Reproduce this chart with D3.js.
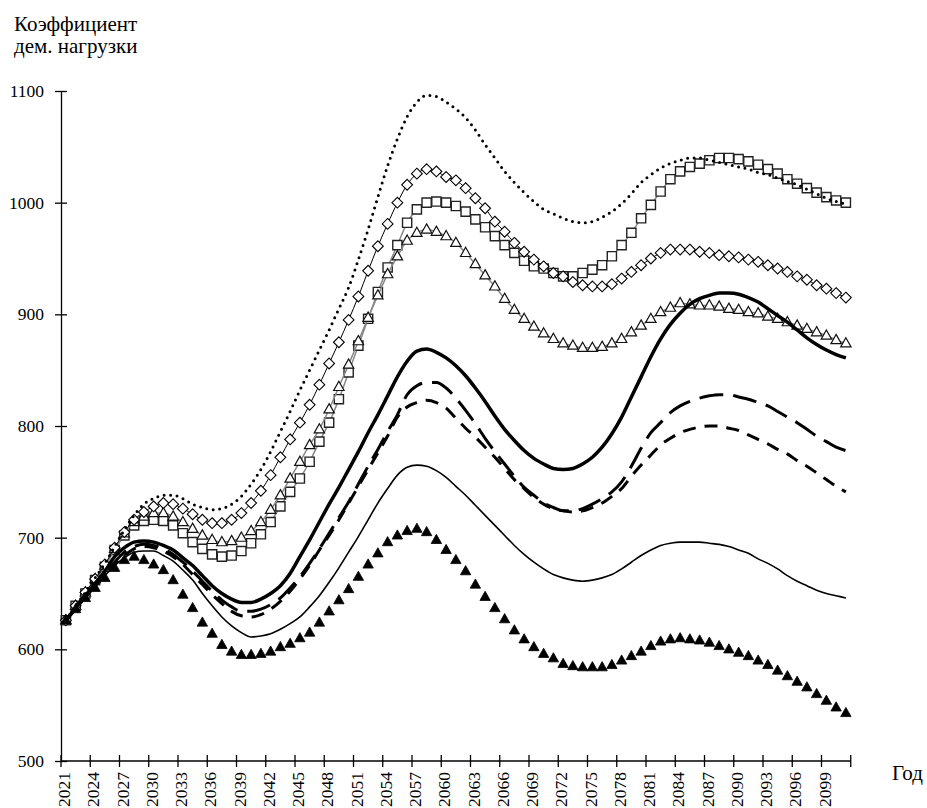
<!DOCTYPE html>
<html>
<head>
<meta charset="utf-8">
<script src="https://cdn.jsdelivr.net/npm/d3@7"></script>
</head>
<body style="margin:0">
<div id="chart"></div>
<script>
// categories and tick labels
var years = d3.range(2021, 2102);
var tickYears = d3.range(2021, 2100, 3);
var yTicks = [500, 600, 700, 800, 900, 1000, 1100];

// series values, one per year 2021..2101
var dotted = [626, 639, 651, 664, 677, 692, 707, 720, 730, 735,
    738, 738, 735, 730, 727, 725, 726, 730, 737, 748,
    761, 777, 795, 813, 832, 850, 868, 886, 905, 924,
    949, 976, 1005, 1033, 1057, 1077, 1090, 1096, 1095, 1090,
    1084, 1076, 1065, 1052, 1040, 1028, 1018, 1009, 1001, 994,
    990, 986, 983, 982, 983, 987, 992, 999, 1008, 1018,
    1025, 1031, 1035, 1038, 1040, 1040, 1038, 1036, 1034, 1032,
    1030, 1027, 1025, 1022, 1019, 1016, 1012, 1008, 1004, 1001,
    999];

var diamonds = [626, 639, 651, 663, 676, 691, 705, 716, 723, 728,
    731, 730, 726, 721, 716, 713, 713, 716, 722, 731,
    742, 756, 772, 788, 803, 819, 837, 856, 875, 895,
    916, 939, 961, 981, 1000, 1016, 1026, 1030, 1028, 1023,
    1020, 1013, 1004, 995, 983, 974, 964, 956, 949, 943,
    937, 934, 929, 926, 925, 925, 927, 932, 938, 944,
    950, 955, 958, 958, 958, 956, 955, 953, 952, 951,
    949, 947, 944, 941, 938, 934, 931, 926, 923, 919,
    915];

var squares = [626, 639, 650, 662, 674, 689, 702, 711, 715, 716,
    715, 711, 704, 696, 690, 685, 683, 684, 688, 695,
    703, 714, 728, 741, 753, 768, 786, 803, 824, 848,
    872, 896, 920, 942, 962, 982, 994, 1000, 1001, 1000,
    997, 992, 985, 978, 970, 962, 955, 948, 943, 941,
    937, 934, 934, 937, 940, 944, 952, 962, 973, 986,
    998, 1010, 1021, 1028, 1032, 1035, 1038, 1040, 1040, 1039,
    1037, 1034, 1030, 1026, 1021, 1017, 1013, 1009, 1005, 1002,
    1000];

var openTri = [626, 639, 651, 663, 675, 690, 704, 714, 719, 722,
    722, 719, 714, 708, 702, 698, 696, 697, 700, 706,
    714, 725, 738, 753, 768, 783, 797, 815, 835, 855,
    876, 897, 917, 936, 952, 966, 973, 976, 974, 970,
    964, 955, 945, 935, 925, 914, 904, 896, 889, 883,
    878, 874, 872, 870, 870, 871, 874, 878, 884, 890,
    896, 902, 906, 910, 909, 908, 908, 907, 905, 904,
    902, 901, 898, 896, 893, 890, 887, 884, 881, 877,
    874];

var thick = [626, 637, 648, 659, 670, 683, 691, 696, 697, 696,
    693, 689, 682, 675, 666, 657, 650, 645, 642, 642,
    645, 650, 657, 668, 683, 698, 714, 730, 745, 761,
    777, 794, 810, 827, 844, 858, 867, 869, 866, 861,
    854, 845, 834, 822, 809, 797, 787, 778, 771, 766,
    762, 761, 762, 766, 772, 781, 793, 808, 826, 844,
    862, 878, 891, 901, 909, 914, 917, 919, 919, 918,
    915, 911, 905, 899, 893, 886, 879, 873, 868, 864,
    861];

var longDash = [626, 637, 648, 658, 668, 678, 687, 692, 694, 693,
    690, 685, 678, 670, 661, 652, 644, 638, 634, 634,
    636, 640, 646, 655, 665, 677, 690, 704, 718, 732,
    748, 764, 779, 795, 810, 828, 836, 839, 839, 834,
    825, 814, 802, 789, 777, 766, 755, 745, 738, 731,
    727, 724, 724, 726, 730, 735, 741, 750, 764, 780,
    794, 803, 812, 818, 822, 825, 827, 828, 828, 826,
    824, 821, 818, 813, 808, 803, 797, 791, 786, 781,
    778];

var shortDash = [626, 636, 647, 657, 667, 676, 684, 690, 692, 691,
    688, 683, 676, 667, 658, 649, 641, 634, 630, 629,
    631, 636, 643, 652, 663, 675, 689, 702, 716, 731,
    746, 761, 776, 791, 808, 817, 821, 823, 821, 816,
    807, 798, 790, 781, 772, 762, 752, 744, 736, 730,
    726, 724, 723, 724, 727, 731, 737, 744, 755, 765,
    774, 783, 789, 794, 797, 799, 800, 800, 798, 796,
    792, 788, 784, 779, 775, 769, 764, 758, 752, 746,
    741];

var thin = [626, 636, 646, 656, 666, 675, 682, 687, 688, 688,
    684, 679, 671, 662, 650, 639, 629, 621, 615, 611,
    612, 614, 618, 623, 629, 638, 648, 660, 673, 687,
    701, 716, 731, 744, 756, 763, 765, 764, 760, 754,
    746, 738, 729, 720, 711, 702, 693, 685, 678, 672,
    667, 664, 662, 661, 662, 664, 667, 672, 678, 684,
    689, 693, 695, 696, 696, 696, 695, 694, 692, 689,
    686, 681, 677, 672, 666, 661, 657, 653, 650, 648,
    646];

var filledTri = [626, 636, 646, 655, 664, 673, 680, 683, 680, 676,
    671, 662, 649, 637, 624, 614, 604, 598, 595, 595,
    596, 598, 602, 605, 610, 615, 624, 634, 644, 654,
    665, 676, 686, 696, 702, 706, 708, 705, 698, 689,
    680, 670, 658, 647, 637, 627, 617, 609, 602, 596,
    592, 587, 585, 584, 584, 584, 586, 590, 594, 598,
    603, 607, 609, 610, 609, 608, 606, 603, 600, 597,
    594, 590, 586, 581, 576, 571, 566, 560, 554, 548,
    543];

var fontFam = "'Liberation Serif', 'Times New Roman', serif";

var w = 927;
var h = 808;

var svg = d3.select("#chart")
        .append("svg")
        .attr("width", w)
        .attr("height", h);

// band axis: points sit in the middle of each year, ticks between years
var x = d3.scaleBand()
        .domain(years)
        .range([61, 850.75]);
var y = d3.scaleLinear()
        .domain([500, 1100])
        .range([761, 91]);

var cx = function(i) { return x(years[i]) + x.bandwidth() / 2; };

var line = d3.line()
        .x(function(d, i) { return cx(i); })
        .y(function(d) { return y(d); })
        .curve(d3.curveMonotoneX);

// y axis
var yAxis = svg.append("g")
        .attr("transform", "translate(61,0)")
        .call(d3.axisLeft(y)
            .tickValues(yTicks)
            .tickFormat(d3.format("d"))
            .tickSize(6)
            .tickSizeOuter(0)
            .tickPadding(11));
yAxis.attr("font-family", null).attr("font-size", null);
yAxis.selectAll(".tick line").attr("x1", 6).attr("stroke", "#000").attr("stroke-width", 1.3);
yAxis.select(".domain").attr("stroke", "#000").attr("stroke-width", 1.3);
yAxis.selectAll("text")
    .style("font-family", fontFam)
    .style("font-size", "17.5px")
    .attr("fill", "#000");

// x axis
var xAxis = svg.append("g");
xAxis.append("line")
    .attr("x1", x.range()[0]).attr("x2", x.range()[1])
    .attr("y1", y(500)).attr("y2", y(500))
    .attr("stroke", "#000").attr("stroke-width", 1.3);
var tickPos = tickYears.map(function(t) { return x(t); }).concat([x.range()[1]]);
xAxis.selectAll("line.tk")
    .data(tickPos)
    .enter()
    .append("line")
    .attr("class", "tk")
    .attr("x1", function(d) { return d; })
    .attr("x2", function(d) { return d; })
    .attr("y1", y(500) - 6)
    .attr("y2", y(500) + 6)
    .attr("stroke", "#000").attr("stroke-width", 1.3);
xAxis.selectAll("text")
    .data(tickYears)
    .enter()
    .append("text")
    .attr("transform", function(d) {
        return "translate(" + (x(d) + 3) + "," + (y(500) + 11) + ") rotate(-90)";
    })
    .attr("text-anchor", "end")
    .attr("dy", "0.35em")
    .style("font-family", fontFam)
    .style("font-size", "17.5px")
    .text(function(d) { return d; });

// axis titles
var titles = [["Коэффициент", 14, 31], ["дем. нагрузки", 14, 53], ["Год", 892, 780]];
svg.selectAll("text.title")
    .data(titles)
    .enter()
    .append("text")
    .attr("class", "title")
    .attr("x", function(d) { return d[1]; })
    .attr("y", function(d) { return d[2]; })
    .style("font-family", fontFam)
    .style("font-size", "21px")
    .text(function(d) { return d[0]; });

var plot = svg.append("g");

// marker shapes
var squarePath = "M-4.6,-4.6H4.6V4.6H-4.6Z";
var triPath = "M0,-5.6L5.2,3.6H-5.2Z";
var diamondPath = "M0,-5.4L5.4,0L0,5.4L-5.4,0Z";

function markers(data, path, fill, stroke, sw) {
    plot.append("g")
        .selectAll("path")
        .data(data)
        .enter()
        .append("path")
        .attr("d", path)
        .attr("transform", function(d, i) { return "translate(" + cx(i) + "," + y(d) + ")"; })
        .attr("fill", fill)
        .attr("stroke", stroke)
        .attr("stroke-width", sw);
}

// squares with grey connecting line
plot.append("path").datum(squares).attr("d", line)
    .attr("fill", "none").attr("stroke", "#888").attr("stroke-width", 1.5);
markers(squares, squarePath, "#fff", "#222", 1.4);

// open triangles with grey connecting line
plot.append("path").datum(openTri).attr("d", line)
    .attr("fill", "none").attr("stroke", "#888").attr("stroke-width", 1.5);
markers(openTri, triPath, "#fff", "#111", 1.2);

// diamonds with thin black line
plot.append("path").datum(diamonds).attr("d", line)
    .attr("fill", "none").attr("stroke", "#000").attr("stroke-width", 1);
markers(diamonds, diamondPath, "#fff", "#000", 1.1);

// dotted
plot.append("path").datum(dotted).attr("d", line)
    .attr("fill", "none").attr("stroke", "#000").attr("stroke-width", 3)
    .attr("stroke-linecap", "round").attr("stroke-dasharray", "0,6.5");

// thick solid
plot.append("path").datum(thick).attr("d", line)
    .attr("fill", "none").attr("stroke", "#000").attr("stroke-width", 3.5);

// long dash
plot.append("path").datum(longDash).attr("d", line)
    .attr("fill", "none").attr("stroke", "#000").attr("stroke-width", 3)
    .attr("stroke-dasharray", "24,10");

// short dash
plot.append("path").datum(shortDash).attr("d", line)
    .attr("fill", "none").attr("stroke", "#000").attr("stroke-width", 3)
    .attr("stroke-dasharray", "13,9");

// thin solid
plot.append("path").datum(thin).attr("d", line)
    .attr("fill", "none").attr("stroke", "#000").attr("stroke-width", 1.6);

// filled triangles
markers(filledTri, triPath, "#000", "#000", 0.8);
</script>
</body>
</html>
